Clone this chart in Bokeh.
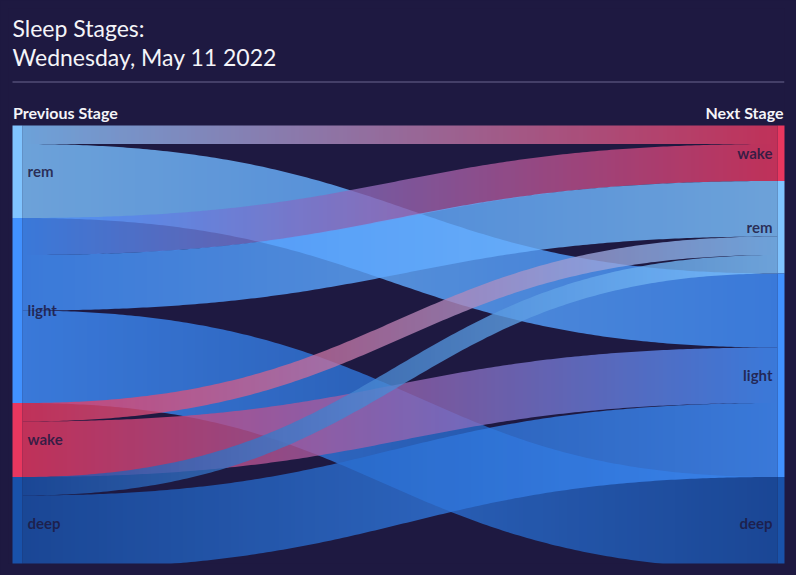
import numpy as np
from bokeh.plotting import figure
from bokeh.models import Range1d
from bokeh.core.properties import value
from bokeh.embed import file_html
from bokeh.resources import INLINE

# ---------------- data ----------------
title_lines = ["Sleep Stages:", "Wednesday, May 11 2022"]
left_header = "Previous Stage"
right_header = "Next Stage"

stage_names = ["rem", "light", "wake", "deep"]
stage_colors = ["#80c4ff", "#4191ff", "#e8375f", "#1952aa"]
left_order = ["rem", "light", "wake", "deep"]      # previous stage column
right_order = ["wake", "rem", "light", "deep"]     # next stage column

link_source = ["rem", "rem", "light", "light", "light", "wake", "wake", "deep", "deep"]
link_target = ["wake", "light", "wake", "rem", "deep", "rem", "light", "rem", "light"]
link_count = [1, 4, 2, 3, 5, 1, 3, 1, 4]

# ---------------- style / layout ----------------
BG = "#1e1941"
FONT = "Lato"
W, H = 796, 575
X_MIN, X_MAX = 8, 784          # drawing frame (page pixels)
Y_MIN, Y_MAX = 8, 563
LEFT_X0, NODE_W = 12, 10
RIGHT_X0 = 777
TOP = 125
UNIT = 18.5                    # px per transition
LINK_ALPHA = 0.8
PIX = 0.5                      # pixel-grid alignment of slice edges
BASE_FIX = 0.4                 # baseline correction (em)

color_of = dict(zip(stage_names, stage_colors))


def hex_to_rgb(h):
    h = h.lstrip("#")
    return np.array([int(h[i:i + 2], 16) for i in (0, 2, 4)], dtype=float)


def rgb_to_hex(c):
    c = np.clip(np.round(c), 0, 255).astype(int)
    return "#%02x%02x%02x" % tuple(c)


def node_extents(order, key_list):
    ext = {}
    y = TOP
    for s in order:
        tot = sum(c for k, c in zip(key_list, link_count) if k == s)
        ext[s] = (y, y + tot * UNIT)
        y += tot * UNIT
    return ext


left_ext = node_extents(left_order, link_source)
right_ext = node_extents(right_order, link_target)

n = len(link_count)
src_y = [0.0] * n
tgt_y = [0.0] * n
for s in left_order:
    idx = [i for i in range(n) if link_source[i] == s]
    idx.sort(key=lambda i: right_order.index(link_target[i]))
    y = left_ext[s][0]
    for i in idx:
        src_y[i] = y
        y += link_count[i] * UNIT
for t in right_order:
    idx = [i for i in range(n) if link_target[i] == t]
    idx.sort(key=lambda i: left_order.index(link_source[i]))
    y = right_ext[t][0]
    for i in idx:
        tgt_y[i] = y
        y += link_count[i] * UNIT

xa = LEFT_X0 + NODE_W
xb = RIGHT_X0
xm = (xa + xb) / 2.0
STEP = 4
inner = np.arange(xa + STEP, xb, STEP).astype(float) + PIX
edges = np.concatenate([[xa], inner, [xb]])

patch_xs, patch_ys, patch_cols = [], [], []
tt = np.linspace(0, 1, 3001)
for i in range(n):
    w = link_count[i] * UNIT
    y0 = src_y[i] + w / 2
    y1 = tgt_y[i] + w / 2
    bx = (1 - tt) ** 3 * xa + 3 * (1 - tt) ** 2 * tt * xm + 3 * (1 - tt) * tt ** 2 * xm + tt ** 3 * xb
    by = y0 + (y1 - y0) * (3 * tt ** 2 - 2 * tt ** 3)
    dx = 3 * (1 - tt) ** 2 * (xm - xa) + 3 * tt ** 2 * (xb - xm)
    dy = (y1 - y0) * (6 * tt - 6 * tt ** 2)
    nrm = np.hypot(dx, dy)
    nx, ny = -dy / nrm, dx / nrm
    ax_, ay_ = bx + nx * w / 2, by + ny * w / 2
    cx_, cy_ = bx - nx * w / 2, by - ny * w / 2
    oa = np.argsort(ax_)
    oc = np.argsort(cx_)
    ya = np.interp(edges, ax_[oa], ay_[oa])
    yc = np.interp(edges, cx_[oc], cy_[oc])
    c0 = hex_to_rgb(color_of[link_source[i]])
    c1 = hex_to_rgb(color_of[link_target[i]])
    for k in range(len(edges) - 1):
        xl, xr = edges[k], edges[k + 1]
        patch_xs.append([xl, xr, xr, xl])
        patch_ys.append([ya[k], ya[k + 1], yc[k + 1], yc[k]])
        f = ((xl + xr) / 2 - xa) / (xb - xa)
        patch_cols.append(rgb_to_hex(c0 + (c1 - c0) * f))

# ---------------- figure ----------------
p = figure(width=W, height=H,
           x_range=Range1d(X_MIN, X_MAX), y_range=Range1d(Y_MAX, Y_MIN),
           output_backend="svg", toolbar_location=None,
           background_fill_color=BG, border_fill_color=BG,
           min_border_left=X_MIN, min_border_right=W - X_MAX,
           min_border_top=Y_MIN, min_border_bottom=H - Y_MAX)
p.outline_line_color = None
p.axis.visible = False
p.grid.visible = False

p.patches(xs=patch_xs, ys=patch_ys, fill_color=patch_cols, fill_alpha=LINK_ALPHA, line_color=None)

for ext, x0 in ((left_ext, LEFT_X0), (right_ext, RIGHT_X0)):
    names = list(ext.keys())
    p.quad(left=[x0] * len(names), right=[x0 + NODE_W] * len(names),
           top=[ext[s][0] for s in names], bottom=[ext[s][1] for s in names],
           fill_color=[color_of[s] for s in names], line_color=None)


def base(y, fs):
    return y - BASE_FIX * fs


LBL = 15
p.text(x=[xa + 5] * 4,
       y=[base((left_ext[s][0] + left_ext[s][1]) / 2 + 0.35 * LBL, LBL) for s in left_order],
       text=left_order, text_font=value(FONT), text_font_size=value(f"{LBL}px"),
       text_font_style="bold", text_color=BG, text_alpha=0.85,
       text_align="left", text_baseline="alphabetic")
p.text(x=[xb - 5] * 4,
       y=[base((right_ext[s][0] + right_ext[s][1]) / 2 + 0.35 * LBL, LBL) for s in right_order],
       text=right_order, text_font=value(FONT), text_font_size=value(f"{LBL}px"),
       text_font_style="bold", text_color=BG, text_alpha=0.85,
       text_align="right", text_baseline="alphabetic")

TFS = 23
p.text(x=[12, 12], y=[base(36.5, TFS), base(66, TFS)], text=title_lines, text_font=value(FONT),
       text_font_size=value(f"{TFS}px"), text_color="#f4f4f8",
       text_align="left", text_baseline="alphabetic")
p.segment(x0=[12], y0=[81.5], x1=[X_MAX], y1=[81.5], line_color="#6b6790", line_width=1)
HFS = 16
p.text(x=[12.5], y=[base(118, HFS)], text=[left_header], text_font=value(FONT),
       text_font_size=value(f"{HFS}px"), text_font_style="bold", text_color="#f4f4f8",
       text_align="left", text_baseline="alphabetic")
p.text(x=[X_MAX - 1], y=[base(118, HFS)], text=[right_header], text_font=value(FONT),
       text_font_size=value(f"{HFS}px"), text_font_style="bold", text_color="#f4f4f8",
       text_align="right", text_baseline="alphabetic")

html = file_html(p, INLINE)
html = html.replace("</head>", "<style>html, body { background-color: %s; }</style>\n</head>" % BG, 1)
open("out.html", "w").write(html)
